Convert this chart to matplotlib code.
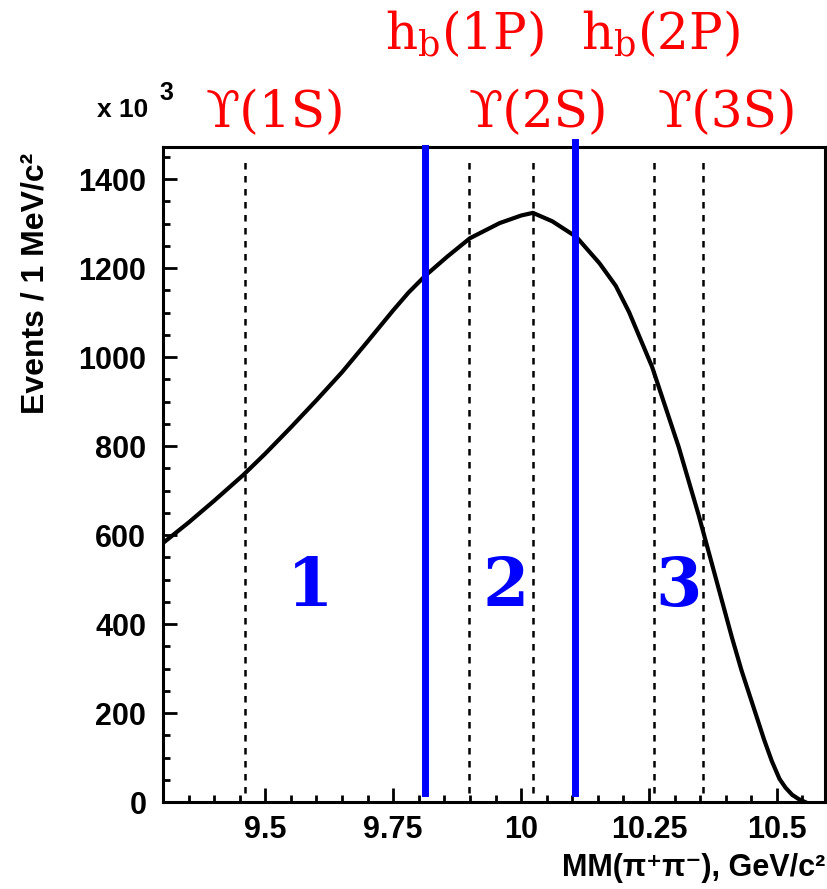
import numpy as np
import matplotlib
matplotlib.use('Agg')
from matplotlib import pyplot as plt
from matplotlib.ticker import MultipleLocator, FixedLocator, FixedFormatter

# missing mass spectrum (background shape)
mm_x = [9.300, 9.350, 9.400, 9.457, 9.500, 9.550, 9.600, 9.650, 9.700, 9.750,
        9.780, 9.812, 9.855, 9.900, 9.958, 10.000, 10.023, 10.061, 10.108,
        10.153, 10.185, 10.211, 10.256, 10.308, 10.347, 10.386, 10.412,
        10.431, 10.458, 10.475, 10.490, 10.505, 10.517, 10.530, 10.542, 10.555]
mm_y = [582, 628, 677, 735, 783, 842, 903, 966, 1035, 1105,
        1145, 1182, 1225, 1267, 1301, 1318, 1324, 1305, 1270,
        1211, 1160, 1101, 978, 798, 645, 480, 370,
        295, 200, 140, 92, 52, 32, 16, 7, 0]

# resonance masses (dashed lines)
state_mass = [9.460, 9.899, 10.023, 10.260, 10.355]
# region borders (blue lines)
borders = [9.812, 10.106]
region_names = ['1', '2', '3']
region_x = [9.588, 9.970, 10.308]

x_ticks = [9.5, 9.75, 10.0, 10.25, 10.5]
x_tick_labels = ['9.5', '9.75', '10', '10.25', '10.5']

plt.rcParams['mathtext.fontset'] = 'dejavuserif'
sans = ['Liberation Sans', 'DejaVu Sans']

W, H = 827, 889
fig = plt.figure(figsize=(W / 100, H / 100), dpi=100)
ax = fig.add_axes([163 / W, 1 - 802 / H, 662 / W, 655 / H])

ax.plot(mm_x, mm_y, color='black', lw=3, zorder=3, solid_joinstyle='round')

for m in state_mass:
    ax.plot([m, m], [20, 1447], color='black', lw=1.8,
            linestyle=(0, (2.6, 2.6)), zorder=2)

for b, top in zip(borders, [1470, 1483]):
    ax.plot([b, b], [20, top], color='blue', lw=5, zorder=4, clip_on=False)

for name, xp in zip(region_names, region_x):
    ax.text(xp, 481, name, ha='center', va='center', fontsize=48,
            fontweight='bold', family='DejaVu Serif', color='blue')

ax.set_xlim(9.3, 10.594)
ax.set_ylim(0, 1472)
ax.xaxis.set_major_locator(FixedLocator(x_ticks))
ax.xaxis.set_major_formatter(FixedFormatter(x_tick_labels))
ax.xaxis.set_minor_locator(MultipleLocator(0.05))
ax.yaxis.set_major_locator(MultipleLocator(200))
ax.yaxis.set_minor_locator(MultipleLocator(50))
ax.tick_params(which='both', direction='in', width=2, top=False, right=False)
ax.tick_params(which='major', length=10)
ax.tick_params(which='minor', length=5)
ax.tick_params(axis='x', which='major', pad=9)
ax.tick_params(axis='y', which='major', pad=12)
for lab in ax.get_xticklabels() + ax.get_yticklabels():
    lab.set_family(sans)
    lab.set_fontsize(22)
    lab.set_fontweight('bold')
for sp in ax.spines.values():
    sp.set_linewidth(2.2)

fig.text(36 / W, 1 - 283 / H, 'Events / 1 MeV/c²', rotation=90, ha='center',
         va='center', fontsize=23, fontweight='bold', family=sans)
fig.text(825 / W, 1 - 868 / H, 'MM(π⁺π⁻), GeV/c²', ha='right', va='center',
         fontsize=22, fontweight='bold', family=sans)
fig.text(148 / W, 1 - 117 / H, 'x 10', ha='right', va='baseline',
         fontsize=19, fontweight='bold', family=sans)
fig.text(159 / W, 1 - 100 / H, '3', ha='left', va='baseline',
         fontsize=18, fontweight='bold', family=sans)

# state labels
red_labels = ['ϒ(1S)', 'ϒ(2S)', 'ϒ(3S)', r'h$_{\rm b}$(1P)', r'h$_{\rm b}$(2P)']
red_px = [(275, 127), (538, 127), (727, 127), (464, 50), (660, 50)]
for txt, (px, py) in zip(red_labels, red_px):
    fig.text(px / W, 1 - py / H, txt, ha='center', va='baseline',
             fontsize=36, color='red', family='DejaVu Serif')

plt.savefig('out.png', dpi=100)
